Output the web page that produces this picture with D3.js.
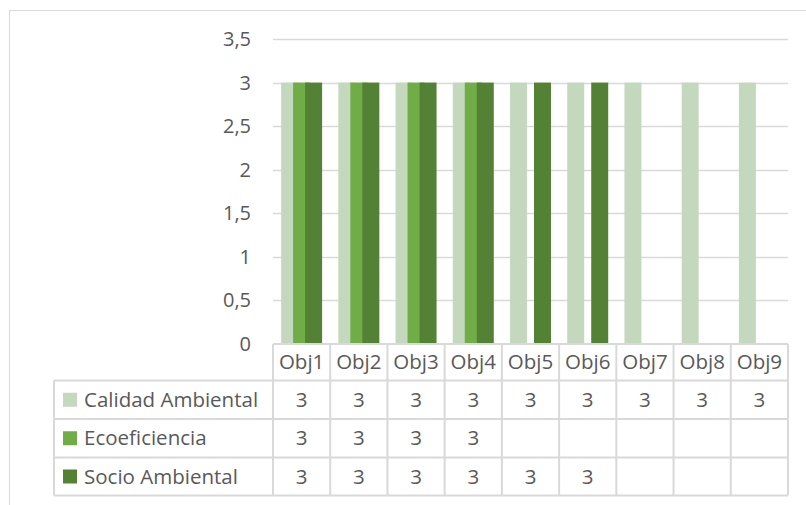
<!DOCTYPE html>
<html><head><meta charset="utf-8">
<script src="https://cdn.jsdelivr.net/npm/d3@7"></script>
<style>body{margin:0;background:#fff}svg{display:block}text{font-family:"Open Sans",sans-serif;fill:#595959}</style>
</head><body>
<script>
const categories = ["Obj1","Obj2","Obj3","Obj4","Obj5","Obj6","Obj7","Obj8","Obj9"];
const seriesNames = ["Calidad Ambiental","Ecoeficiencia","Socio Ambiental"];
const calidad = [3,3,3,3,3,3,3,3,3];
const ecoeficiencia = [3,3,3,3,null,null,null,null,null];
const socio = [3,3,3,3,3,3,null,null,null];
const colors = ["#c4d8bd","#70ad47","#548235"];
const yTicks = [0,0.5,1,1.5,2,2.5,3,3.5];

const series = [calidad, ecoeficiencia, socio];
const W = 806, H = 505;
const svg = d3.select("body").append("svg").attr("width",W).attr("height",H);

// outer frame
svg.append("rect").attr("x",9.5).attr("y",10.5).attr("width",W+20).attr("height",H+20)
  .attr("fill","none").attr("stroke","#d9d9d9").attr("stroke-width",1);

const x0 = 273, x1 = 788;
const yTop = 39, yBot = 344;
const x = d3.scaleBand().domain(categories).range([x0,x1]).padding(0);
const y = d3.scaleLinear().domain([0,3.5]).range([yBot,yTop]);
const fmt = v => String(v).replace(".", ",");

// gridlines
svg.append("g").selectAll("line").data(yTicks.filter(t=>t>0)).join("line")
  .attr("x1",x0).attr("x2",x1).attr("y1",d=>Math.round(y(d))+0.5).attr("y2",d=>Math.round(y(d))+0.5)
  .attr("stroke","#d9d9d9").attr("stroke-width",1.5);

// y axis labels
svg.append("g").selectAll("text").data(yTicks).join("text")
  .attr("x",251).attr("y",d=>y(d)).attr("dy","0.35em").attr("text-anchor","end")
  .attr("font-size","20px").text(fmt);

// bars
const bw = 17, step = 12;
series.forEach((s,i)=>{
  svg.append("g").selectAll("rect").data(categories.map((c,j)=>({c,v:s[j]})).filter(d=>d.v!=null)).join("rect")
    .attr("x",d=>x(d.c)+x.bandwidth()/2 + (i-1)*step - bw/2)
    .attr("y",d=>y(d.v)).attr("width",bw).attr("height",d=>yBot-y(d.v))
    .attr("fill",colors[i]);
});

// data table
const rowH = [yBot, 380.5, 419, 457.5, 495.5];
const tl = 54;
const g = svg.append("g");
const stroke = "#d9d9d9", sw = 2;
const fs = "20.5px";
g.append("line").attr("x1",x0).attr("x2",x1).attr("y1",rowH[0]).attr("y2",rowH[0]).attr("stroke",stroke).attr("stroke-width",sw);
for (let r=1;r<rowH.length;r++){
  g.append("line").attr("x1",tl).attr("x2",x1).attr("y1",rowH[r]).attr("y2",rowH[r]).attr("stroke",stroke).attr("stroke-width",sw);
}
const vx = categories.map(c=>x(c)).concat([x1]);
vx.forEach(v=>g.append("line").attr("x1",v).attr("x2",v).attr("y1",rowH[0]).attr("y2",rowH[4]).attr("stroke",stroke).attr("stroke-width",sw));
g.append("line").attr("x1",tl).attr("x2",tl).attr("y1",rowH[1]).attr("y2",rowH[4]).attr("stroke",stroke).attr("stroke-width",sw);

g.selectAll("text.cat").data(categories).join("text").attr("class","cat")
  .attr("x",d=>x(d)+x.bandwidth()/2).attr("y",(rowH[0]+rowH[1])/2).attr("dy","0.35em")
  .attr("text-anchor","middle").attr("font-size",fs).text(d=>d);

series.forEach((s,i)=>{
  const cy = (rowH[i+1]+rowH[i+2])/2;
  g.append("rect").attr("x",63).attr("y",cy-7).attr("width",14).attr("height",14).attr("fill",colors[i]);
  g.append("text").attr("x",84).attr("y",cy).attr("dy","0.35em").attr("font-size",fs).text(seriesNames[i]);
  g.selectAll("text.v"+i).data(categories.map((c,j)=>({c,v:s[j]})).filter(d=>d.v!=null)).join("text")
    .attr("x",d=>x(d.c)+x.bandwidth()/2).attr("y",cy).attr("dy","0.35em")
    .attr("text-anchor","middle").attr("font-size",fs).text(d=>fmt(d.v));
});
</script>
</body></html>
